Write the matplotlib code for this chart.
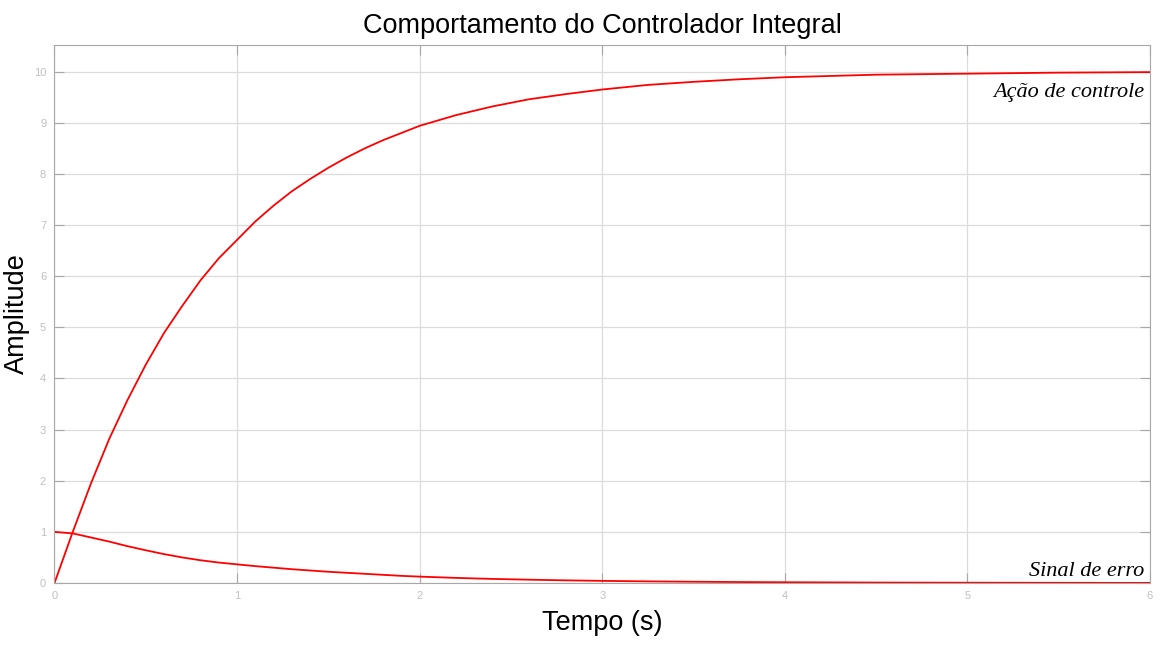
import numpy as np
import matplotlib
matplotlib.use("Agg")
import matplotlib.pyplot as plt

# valores
t = [0, 0.1, 0.2, 0.3, 0.4, 0.5, 0.6, 0.7, 0.8, 0.9, 1.0, 1.1, 1.2, 1.3, 1.4,
     1.5, 1.6, 1.7, 1.8, 1.9, 2.0, 2.2, 2.4, 2.6, 2.8, 3.0, 3.25, 3.5, 3.75,
     4.0, 4.5, 5.0, 5.5, 6.0]
acao_controle = [0, 1.0, 1.95, 2.82, 3.58, 4.27, 4.89, 5.42, 5.92, 6.35, 6.71,
                 7.07, 7.38, 7.66, 7.9, 8.12, 8.32, 8.5, 8.66, 8.8, 8.94,
                 9.15, 9.32, 9.46, 9.56, 9.65, 9.74, 9.8, 9.85, 9.89, 9.94,
                 9.96, 9.98, 9.99]
sinal_erro = [1.0, 0.97, 0.89, 0.81, 0.72, 0.64, 0.565, 0.5, 0.445, 0.4, 0.365,
              0.33, 0.3, 0.27, 0.245, 0.22, 0.2, 0.18, 0.16, 0.14, 0.125,
              0.1, 0.08, 0.065, 0.052, 0.042, 0.032, 0.025, 0.019, 0.015,
              0.009, 0.006, 0.004, 0.002]

plt.rcParams['font.family'] = ['Liberation Sans', 'DejaVu Sans']

fig = plt.figure(figsize=(11.67, 6.45), dpi=100)
ax = fig.add_axes([0.0467, 0.0961, 0.9387, 0.8341])

ax.plot(t, acao_controle, color='#ff0000', lw=1.3)
ax.plot(t, sinal_erro, color='#ff0000', lw=1.3)

ax.set_xlim(0, 6)
ax.set_ylim(0, 10.52)
ax.set_xticks(range(0, 7))
ax.set_yticks(range(0, 11))
ax.grid(True, color='#dcdcdc', lw=0.9)
ax.set_axisbelow(True)
for s in ax.spines.values():
    s.set_color('#a8a8a8')
ax.tick_params(direction='in', length=7, color='#a8a8a8', labelcolor='#c0c0c0',
               labelsize=8, top=True, right=True, pad=6)

ax.set_title('Comportamento do Controlador Integral', fontsize=19.5, pad=9)
ax.set_xlabel('Tempo (s)', fontsize=19.5, labelpad=6)
ax.set_ylabel('Amplitude', fontsize=19.5, labelpad=3)

ax.text(5.97, 9.6, 'Ação de controle', ha='right', va='center',
        family='Liberation Serif', style='italic', fontsize=16)
ax.text(5.97, 0.22, 'Sinal de erro', ha='right', va='center',
        family='Liberation Serif', style='italic', fontsize=16)

fig.savefig('out.png', dpi=100)
